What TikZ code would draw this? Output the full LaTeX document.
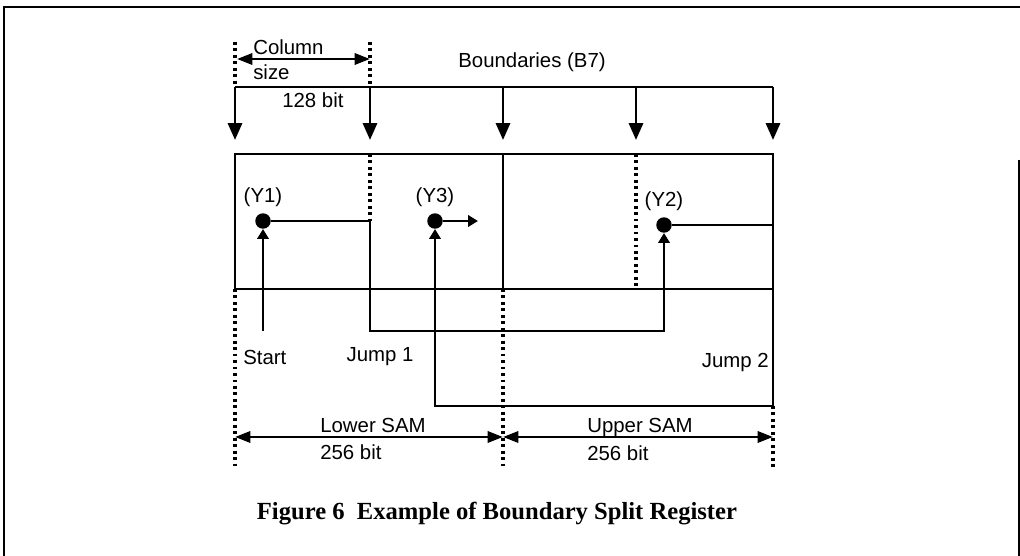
\documentclass[tikz,border=0pt]{standalone}
\usepackage{fontspec}
\setmainfont{Liberation Sans}
\newfontfamily\capfont{Liberation Serif}
\usetikzlibrary{arrows.meta,positioning,calc}

\begin{document}
\begin{tikzpicture}[
  x=0.025cm,y=-0.025cm,
  every node/.style={font=\fontsize{14.5}{16}\selectfont,inner sep=0pt},
  wire/.style={line width=2pt},
  guide/.style={line width=2.2pt,dash pattern=on 2pt off 2.6pt},
  bigtip/.style={wire,-{Triangle[length=12pt,width=10pt]}},
  flow/.style={wire,-{Triangle[length=7pt,width=8pt]}},
  dimarr/.style={wire,{Triangle[length=11pt,width=8pt]}-{Triangle[length=11pt,width=8pt]}},
  addr/.style={circle,fill=black,minimum size=11pt,inner sep=0pt},
  caplbl/.style={font=\capfont\bfseries\fontsize{17.5}{20}\selectfont}
]
\useasboundingbox (0,0) rectangle (1020,556);

% page frame
\draw[wire] (4,556) -- (4,7) -- (1020,7);
\draw[wire] (1019,160) -- (1019,556);

% boundaries
\foreach \i/\x in {0/235,1/370,2/503,3/636,4/773}{
  \coordinate (B\i) at (\x,87);
  \coordinate (T\i) at (\x,140);
}
\draw[wire] (B0) -- (B4);
\foreach \i in {0,...,4}
  \draw[bigtip] (B\i) -- (T\i);
\node (bnd) at (532,62) {Boundaries (B7)};

% column size
\draw[guide] (235,42) -- (B0);
\draw[guide] (370,42) -- (B1);
\coordinate (csL) at (237,59);
\coordinate (csR) at (370,59);
\draw[dimarr] (csL) -- (csR);
\node[anchor=west] (col) at (253,47) {Column};
\node[anchor=west] (csz) at (253,72) {size};
\node[anchor=west] (cbit) at (282,100) {128 bit};

% register
\coordinate (Rnw) at (235,154);
\coordinate (Rse) at (773,289);
\draw[wire] (Rnw) rectangle (Rse);
\draw[wire] (503,154) -- (503,289);
\draw[guide] (370,154) -- (370,221);
\draw[guide] (636,154) -- (636,289);

% addresses
\node[addr] (Y1) at (263,221) {};
\node[addr] (Y3) at (435,221) {};
\node[addr] (Y2) at (664,225) {};
\node[above=1.4mm of Y1] (Y1l) {(Y1)};
\node[above=1.4mm of Y3] (Y3l) {(Y3)};
\node[above=1.4mm of Y2] (Y2l) {(Y2)};

% start
\coordinate (S0) at (263,331);
\draw[flow] (S0) -- (Y1);
\node[anchor=west] (start) at (243,357) {Start};

% jump 1
\coordinate (J1a) at (370,331);
\coordinate (J1b) at (664,331);
\draw[flow] (Y1) -| (J1a) -- (J1b) -- (Y2);
\node (jmp1) at (380,357) {Jump 1};

% jump 2
\coordinate (J2a) at (773,406);
\coordinate (J2b) at (435,406);
\draw[flow] (Y2) -| (J2a) -- (J2b) -- (Y3);
\node[anchor=east] (jmp2) at (769,362) {Jump 2};
\coordinate (Y3out) at (478,221);
\draw[flow] (Y3) -- (Y3out);

% SAM halves
\draw[guide] (235,289) -- (235,468);
\draw[guide] (503,289) -- (503,468);
\draw[guide] (J2a) -- (773,468);
\coordinate (LsL) at (235,437);
\coordinate (LsR) at (503,437);
\coordinate (UsR) at (773,437);
\draw[dimarr] (LsL) -- (LsR);
\draw[dimarr] (LsR) -- (UsR);
\node[anchor=west] (lsam) at (320,425) {Lower SAM};
\node[anchor=west] (lbit) at (320,452) {256 bit};
\node[anchor=west] (usam) at (587,427) {Upper SAM};
\node[anchor=west] (ubit) at (587,453) {256 bit};

% caption
\node[caplbl] (cap) at (497,514) {Figure 6\ \ Example of Boundary Split Register};
\end{tikzpicture}
\end{document}
